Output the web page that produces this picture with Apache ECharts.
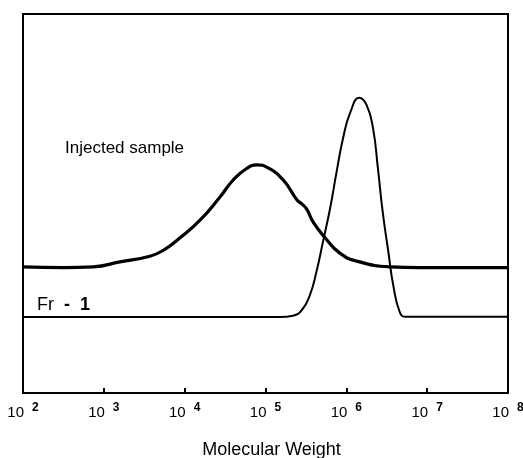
<!DOCTYPE html>
<html>
<head>
<meta charset="utf-8">
<script src="https://cdn.jsdelivr.net/npm/echarts@6/dist/echarts.min.js"></script>
<style>
html,body{margin:0;padding:0;background:#fff;}
#chart{width:523px;height:458px;}
</style>
</head>
<body>
<div id="chart"></div>
<script>
// Molecular weight (x) and detector response (arbitrary units, y)
const injectedMW = [100, 316, 741, 1585, 3715, 5495, 8710, 15490, 27540, 39810, 58880, 77620, 107200, 166000, 245500, 281800, 323600, 389000, 549500, 831800, 1349000, 3467000, 8128000, 1e8];
const injectedResp = [33.3, 33.1, 33.3, 34.6, 36.1, 37.7, 40.9, 45.6, 51.8, 56.2, 59.3, 60.2, 59.4, 56.2, 50.9, 49.9, 48.5, 45.1, 40.9, 36.9, 34.8, 33.3, 33.1, 33.1];
const fr1MW = [100, 10000, 151400, 218800, 281800, 354800, 426600, 512900, 631000, 758600, 912000, 1122000, 1445000, 1778000, 2138000, 2455000, 2818000, 3311000, 3802000, 4571000, 5370000, 1e7, 1e8];
const fr1Resp = [20.05, 20.05, 20.05, 20.4, 21.9, 25.9, 32.0, 39.8, 48.8, 58.4, 67.3, 74.1, 77.9, 76.0, 69.9, 59.4, 47.8, 37.2, 28.5, 21.4, 20.1, 20.1, 20.1];
const xTickExponents = [2, 3, 4, 5, 6, 7, 8];
const labels = { injected: 'Injected sample', fr1a: 'Fr', fr1b: '-  1', xName: 'Molecular Weight' };

const FONT = '"Liberation Sans", Arial, sans-serif';
const chart = echarts.init(document.getElementById('chart'), null, { renderer: 'canvas' });

function zip(xs, ys) { return xs.map((x, i) => [x, ys[i]]); }

chart.setOption({
  animation: false,
  backgroundColor: '#fff',
  grid: { left: 23, right: 15, top: 14, bottom: 65, containLabel: false, outerBoundsMode: 'none',
          show: true, borderColor: '#000', borderWidth: 2, backgroundColor: 'transparent' },
  xAxis: {
    type: 'log', logBase: 10, min: 100, max: 1e8, splitNumber: 6,
    name: labels.xName, nameLocation: 'middle', nameGap: 48,
    nameTextStyle: { fontFamily: FONT, fontSize: 18, color: '#000', padding: [0, 0, 0, 12] },
    axisLine: { show: true, lineStyle: { color: '#000', width: 2 } },
    axisTick: { show: true, inside: true, length: 5, lineStyle: { color: '#000', width: 2 } },
    minorTick: { show: false },
    splitLine: { show: false },
    axisLabel: {
      margin: 9, color: '#000', fontFamily: FONT, showMinLabel: true, showMaxLabel: true,
      formatter: function (v) {
        const e = Math.round(Math.log10(v));
        if (xTickExponents.indexOf(e) < 0) return '';
        return '{b|10}{e|' + e + '}';
      },
      rich: {
        b: { fontSize: 15, lineHeight: 18, verticalAlign: 'bottom', fontFamily: FONT, color: '#000' },
        e: { fontSize: 12, lineHeight: 12, verticalAlign: 'top', fontWeight: 'bold', fontFamily: FONT, color: '#000', padding: [0, 0, 0, 8] }
      }
    }
  },
  yAxis: { type: 'value', min: 0, max: 100, show: false },
  series: [
    {
      name: 'Injected sample', type: 'line', data: zip(injectedMW, injectedResp),
      showSymbol: false, smooth: 0.5,
      lineStyle: { color: '#000', width: 3.2 }
    },
    {
      name: 'Fr-1', type: 'line', data: zip(fr1MW, fr1Resp),
      showSymbol: false, smooth: 0.5,
      lineStyle: { color: '#000', width: 2 }
    }
  ],
  graphic: [
    { type: 'text', left: 65, top: 140, style: { text: labels.injected, font: '17px ' + FONT, fill: '#000' } },
    { type: 'text', left: 37, top: 296, style: {
        text: '{a|' + labels.fr1a + '}{b|  ' + labels.fr1b + '}',
        rich: { a: { fontSize: 18, fontFamily: FONT, color: '#000' }, b: { fontSize: 18, fontWeight: 'bold', fontFamily: FONT, color: '#000' } }
      } }
  ]
});
</script>
</body>
</html>
